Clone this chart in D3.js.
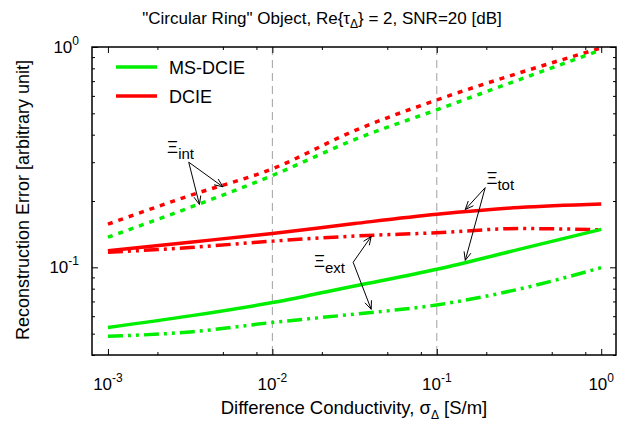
<!DOCTYPE html>
<html>
<head>
<meta charset="utf-8">
<script src="https://cdn.jsdelivr.net/npm/d3@7"></script>
<style>
  body { margin: 0; background: #fff; }
  text { font-family: "Liberation Sans", Arial, sans-serif; fill: #000; }
</style>
</head>
<body>
<svg id="svg" width="639" height="422"></svg>
<script>
// data (sigma in S/m, errors in arbitrary unit)
let sigma = [0.001, 0.00316, 0.01, 0.0316, 0.1, 0.316, 1];
let dcieInt = [0.157, 0.212, 0.280, 0.417, 0.575, 0.762, 0.99];
let msInt = [0.137, 0.187, 0.261, 0.380, 0.519, 0.710, 0.97];
let dcieTot = [0.119, 0.130, 0.1425, 0.158, 0.174, 0.187, 0.194];
let dcieExt = [0.117, 0.123, 0.1315, 0.1386, 0.1435, 0.150, 0.148];
let msTot = [0.0533, 0.0602, 0.0692, 0.0823, 0.098, 0.1206, 0.1486];
let msExt = [0.0486, 0.0509, 0.0562, 0.0613, 0.0675, 0.0796, 0.0997];

let xMajor = [-3, -2, -1, 0];
let yMajor = [-1, 0];
let gridX = [0.01, 0.1];

let svg = d3.select('#svg');
let frame = { l: 92, r: 616, t: 47, b: 355 };

let x = d3.scaleLog().domain([0.0008, 1.23]).range([frame.l, frame.r]);
let y = d3.scaleLog().domain([0.04, 1]).range([frame.b, frame.t]);

let green = '#00ee00';
let red = '#ff0000';

// minor tick values
let xMinor = [];
[0.001, 0.01, 0.1].forEach((d) => {
    [2, 5, 8].forEach((m) => xMinor.push(d * m));
});
let yMinor = [];
[0.01, 0.1].forEach((d) => {
    [2, 3, 4, 5, 6, 7, 8, 9].forEach((m) => {
        if (d * m >= 0.04 && d * m < 1) yMinor.push(d * m);
    });
});

// dashed grid lines
svg.selectAll('.grid')
    .data(gridX)
    .enter().append('line')
    .attr('x1', (d) => x(d)).attr('x2', (d) => x(d))
    .attr('y1', frame.t).attr('y2', frame.b)
    .attr('stroke', '#a0a0a0')
    .attr('stroke-width', 1)
    .attr('stroke-dasharray', '8,5');

// ticks (inward, mirrored)
function tickAxis(axis, vals, size, transform) {
    svg.append('g')
        .attr('transform', transform)
        .call(axis.tickValues(vals).tickSize(size).tickFormat(''))
        .call((g) => g.select('.domain').remove())
        .selectAll('line').attr('stroke', '#000').attr('stroke-width', 1);
}
let xMajVals = xMajor.map((e) => Math.pow(10, e));
let yMajVals = yMajor.map((e) => Math.pow(10, e));
tickAxis(d3.axisBottom(x), xMajVals, -6, 'translate(0,' + frame.b + ')');
tickAxis(d3.axisBottom(x), xMinor, -3, 'translate(0,' + frame.b + ')');
tickAxis(d3.axisTop(x), xMajVals, -6, 'translate(0,' + frame.t + ')');
tickAxis(d3.axisTop(x), xMinor, -3, 'translate(0,' + frame.t + ')');
tickAxis(d3.axisLeft(y), yMajVals, -6, 'translate(' + frame.l + ',0)');
tickAxis(d3.axisLeft(y), yMinor, -3, 'translate(' + frame.l + ',0)');
tickAxis(d3.axisRight(y), yMajVals, -6, 'translate(' + frame.r + ',0)');
tickAxis(d3.axisRight(y), yMinor, -3, 'translate(' + frame.r + ',0)');

// power-of-ten labels
function powLabel(px, py, exp, anchor) {
    let t = svg.append('text')
        .attr('x', px).attr('y', py)
        .attr('text-anchor', anchor)
        .attr('font-size', '17px');
    t.append('tspan').text('10');
    t.append('tspan').attr('dy', -8).attr('font-size', '12px').text(exp);
}
xMajor.forEach((e) => powLabel(x(Math.pow(10, e)), 390, e, 'middle'));
yMajor.forEach((e) => powLabel(79, y(Math.pow(10, e)) + 6, e, 'end'));

// curves
let line = d3.line()
    .x((d) => x(d[0]))
    .y((d) => y(d[1]))
    .curve(d3.curveMonotoneX);

let series = [
    { vals: dcieInt, color: red, dash: '5,6' },
    { vals: msInt, color: green, dash: '5,6' },
    { vals: dcieExt, color: red, dash: '15,5,3,5,3,5' },
    { vals: msExt, color: green, dash: '15,5,3,5,3,5' },
    { vals: dcieTot, color: red, dash: null },
    { vals: msTot, color: green, dash: null }
];
series.forEach((s) => {
    svg.append('path')
        .datum(sigma.map((d, i) => [d, s.vals[i]]))
        .attr('d', line)
        .attr('fill', 'none')
        .attr('stroke', s.color)
        .attr('stroke-width', 3.5)
        .attr('stroke-dasharray', s.dash);
});

// frame
svg.append('rect')
    .attr('x', frame.l).attr('y', frame.t)
    .attr('width', frame.r - frame.l).attr('height', frame.b - frame.t)
    .attr('fill', 'none').attr('stroke', '#000').attr('stroke-width', 1.5);

// legend
let legend = [
    { name: 'MS-DCIE', color: green },
    { name: 'DCIE', color: red }
];
legend.forEach((d, i) => {
    let ly = 67 + i * 29;
    svg.append('line')
        .attr('x1', 116).attr('x2', 157)
        .attr('y1', ly).attr('y2', ly)
        .attr('stroke', d.color).attr('stroke-width', 3.5);
    svg.append('text')
        .attr('x', 169).attr('y', ly + 7)
        .attr('font-size', '18px')
        .text(d.name);
});

// annotations (in data coordinates)
let notes = [
    { sub: 'int', at: [0.00229, 0.331], from: [0.0031, 0.30], to: [[0.005, 0.232], [0.0036, 0.193]] },
    { sub: 'ext', at: [0.0179, 0.1], from: [0.031, 0.1054], to: [[0.0399, 0.138], [0.0399, 0.0645]] },
    { sub: 'tot', at: [0.2003, 0.24], from: [0.197, 0.230], to: [[0.149, 0.183], [0.149, 0.1076]] }
];
function arrow(p0, p1) {
    let x0 = x(p0[0]), y0 = y(p0[1]), x1 = x(p1[0]), y1 = y(p1[1]);
    let a = Math.atan2(y1 - y0, x1 - x0);
    let len = 9, spread = 0.4;
    svg.append('line')
        .attr('x1', x0).attr('y1', y0).attr('x2', x1).attr('y2', y1)
        .attr('stroke', '#000').attr('stroke-width', 1);
    [-spread, spread].forEach((s) => {
        svg.append('line')
            .attr('x1', x1).attr('y1', y1)
            .attr('x2', x1 - len * Math.cos(a + s))
            .attr('y2', y1 - len * Math.sin(a + s))
            .attr('stroke', '#000').attr('stroke-width', 1);
    });
}
notes.forEach((n) => {
    let t = svg.append('text')
        .attr('x', x(n.at[0])).attr('y', y(n.at[1]))
        .attr('font-size', '17px');
    t.append('tspan').text('\u039E');
    t.append('tspan').attr('dy', 6).attr('font-size', '15px').text(n.sub);
    n.to.forEach((p) => arrow(n.from, p));
});

// title and axis labels
let title = svg.append('text')
    .attr('x', 322).attr('y', 24)
    .attr('text-anchor', 'middle')
    .attr('font-size', '17px');
title.append('tspan').text('"Circular Ring" Object, Re{\u03C4');
title.append('tspan').attr('dy', 4).attr('font-size', '12px').text('\u0394');
title.append('tspan').attr('dy', -4).text('} = 2, SNR=20 [dB]');

let xl = svg.append('text')
    .attr('x', 354).attr('y', 414)
    .attr('text-anchor', 'middle')
    .attr('font-size', '18.5px');
xl.append('tspan').text('Difference Conductivity, \u03C3');
xl.append('tspan').attr('dy', 5).attr('font-size', '12px').text('\u0394');
xl.append('tspan').attr('dy', -5).text(' [S/m]');

svg.append('text')
    .attr('transform', 'translate(29,200) rotate(-90)')
    .attr('text-anchor', 'middle')
    .attr('font-size', '18px')
    .text('Reconstruction Error [arbitrary unit]');
</script>
</body>
</html>
